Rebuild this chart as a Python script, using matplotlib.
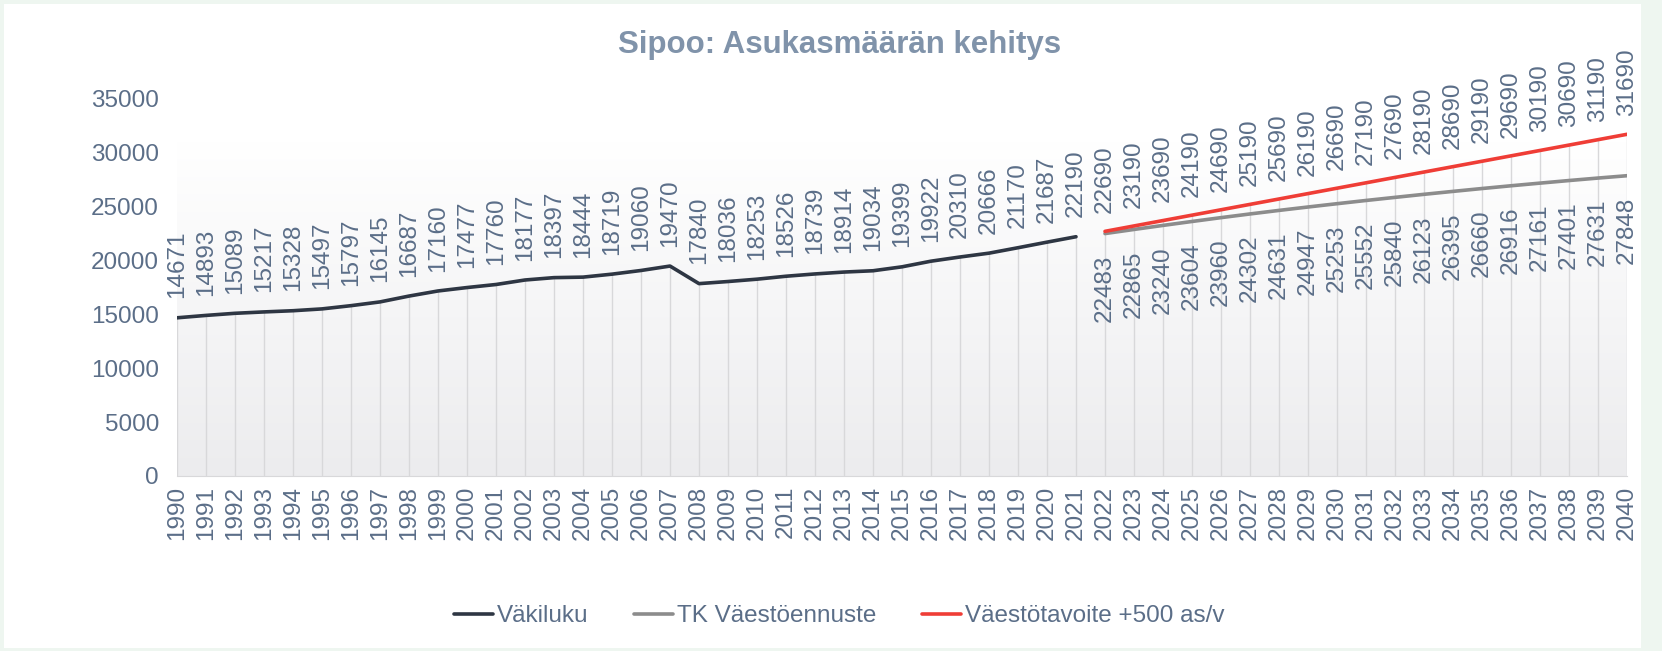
import matplotlib.pyplot as plt
from matplotlib.colors import LinearSegmentedColormap
from matplotlib.patches import Rectangle
import numpy as np

plt.rcParams['font.family'] = ['Liberation Sans', 'DejaVu Sans']

# data
years_hist = list(range(1990, 2022))
vakiluku = [14671, 14893, 15089, 15217, 15328, 15497, 15797, 16145, 16687, 17160,
            17477, 17760, 18177, 18397, 18444, 18719, 19060, 19470, 17840, 18036,
            18253, 18526, 18739, 18914, 19034, 19399, 19922, 20310, 20666, 21170,
            21687, 22190]
years_fc = list(range(2022, 2041))
tk_ennuste = [22483, 22865, 23240, 23604, 23960, 24302, 24631, 24947, 25253, 25552,
              25840, 26123, 26395, 26660, 26916, 27161, 27401, 27631, 27848]
tavoite = [22690, 23190, 23690, 24190, 24690, 25190, 25690, 26190, 26690, 27190,
           27690, 28190, 28690, 29190, 29690, 30190, 30690, 31190, 31690]
labels = ['Väkiluku', 'TK Väestöennuste', 'Väestötavoite +500 as/v']
title = 'Sipoo: Asukasmäärän kehitys'

text_col = '#5b6e88'
c_black = '#2e3643'
c_gray = '#8c8c8c'
c_red = '#ef3d36'

fig = plt.figure(figsize=(16.62, 6.51), dpi=100)
fig.patch.set_facecolor('#eef6f0')
fig.add_artist(Rectangle((4 / 1662, 3 / 651), 1637 / 1662, 644 / 651,
                         transform=fig.transFigure, facecolor='white',
                         edgecolor='none', zorder=0))

ax = fig.add_axes([177 / 1662, 1 - 476 / 651, 1450 / 1662, 377.4 / 651])
ax.set_facecolor('none')

# plot area gradient
cmap = LinearSegmentedColormap.from_list('grad', ['#ececee', '#ffffff'])
grad = np.linspace(0, 1, 256).reshape(-1, 1)
ax.imshow(grad, extent=[1990, 2040, 0, 31000], aspect='auto', cmap=cmap,
          origin='lower', zorder=0)

# drop lines
all_years = years_hist + years_fc
tops = vakiluku + [max(a, b) for a, b in zip(tk_ennuste, tavoite)]
ax.vlines(all_years, 0, tops, color='#d8d8da', lw=1, zorder=1)

l1, = ax.plot(years_hist, vakiluku, color=c_black, lw=2.6, zorder=3,
              solid_capstyle='round')
l2, = ax.plot(years_fc, tk_ennuste, color=c_gray, lw=2.6, zorder=3,
              solid_capstyle='round')
l3, = ax.plot(years_fc, tavoite, color=c_red, lw=2.6, zorder=4,
              solid_capstyle='round')

fs = 17.5
for x, v in zip(years_hist, vakiluku):
    ax.annotate(str(v), (x, v), xytext=(0, 14), textcoords='offset points',
                rotation=90, ha='center', va='bottom', fontsize=fs, color=text_col)
for x, v in zip(years_fc, tavoite):
    ax.annotate(str(v), (x, v), xytext=(0, 13), textcoords='offset points',
                rotation=90, ha='center', va='bottom', fontsize=fs, color=text_col)
for x, v in zip(years_fc, tk_ennuste):
    ax.annotate(str(v), (x, v), xytext=(0, -15), textcoords='offset points',
                rotation=90, ha='center', va='top', fontsize=fs, color=text_col)

ax.set_xlim(1990, 2040)
ax.set_ylim(0, 35000)
ax.set_yticks(range(0, 35001, 5000))
ax.set_xticks(all_years)
ax.set_xticklabels([str(y) for y in all_years], rotation=90)
ax.tick_params(axis='both', length=0, labelsize=fs, labelcolor=text_col)
ax.tick_params(axis='x', pad=7)
ax.tick_params(axis='y', pad=13)
for s in ['top', 'right', 'left']:
    ax.spines[s].set_visible(False)
ax.spines['bottom'].set_color('#d8d8da')

fig.text(0.505, 1 - 45 / 651, title, ha='center', va='center', fontsize=22.5,
         weight='bold', color='#8093aa')

fig.legend([l1, l2, l3], labels, loc='center', bbox_to_anchor=(0.505, 1 - 616 / 651),
           ncol=3, frameon=False, fontsize=fs, labelcolor=text_col,
           handlelength=1.6, handletextpad=0.15, columnspacing=1.9)

fig.savefig('out.png', dpi=100, facecolor=fig.get_facecolor())
